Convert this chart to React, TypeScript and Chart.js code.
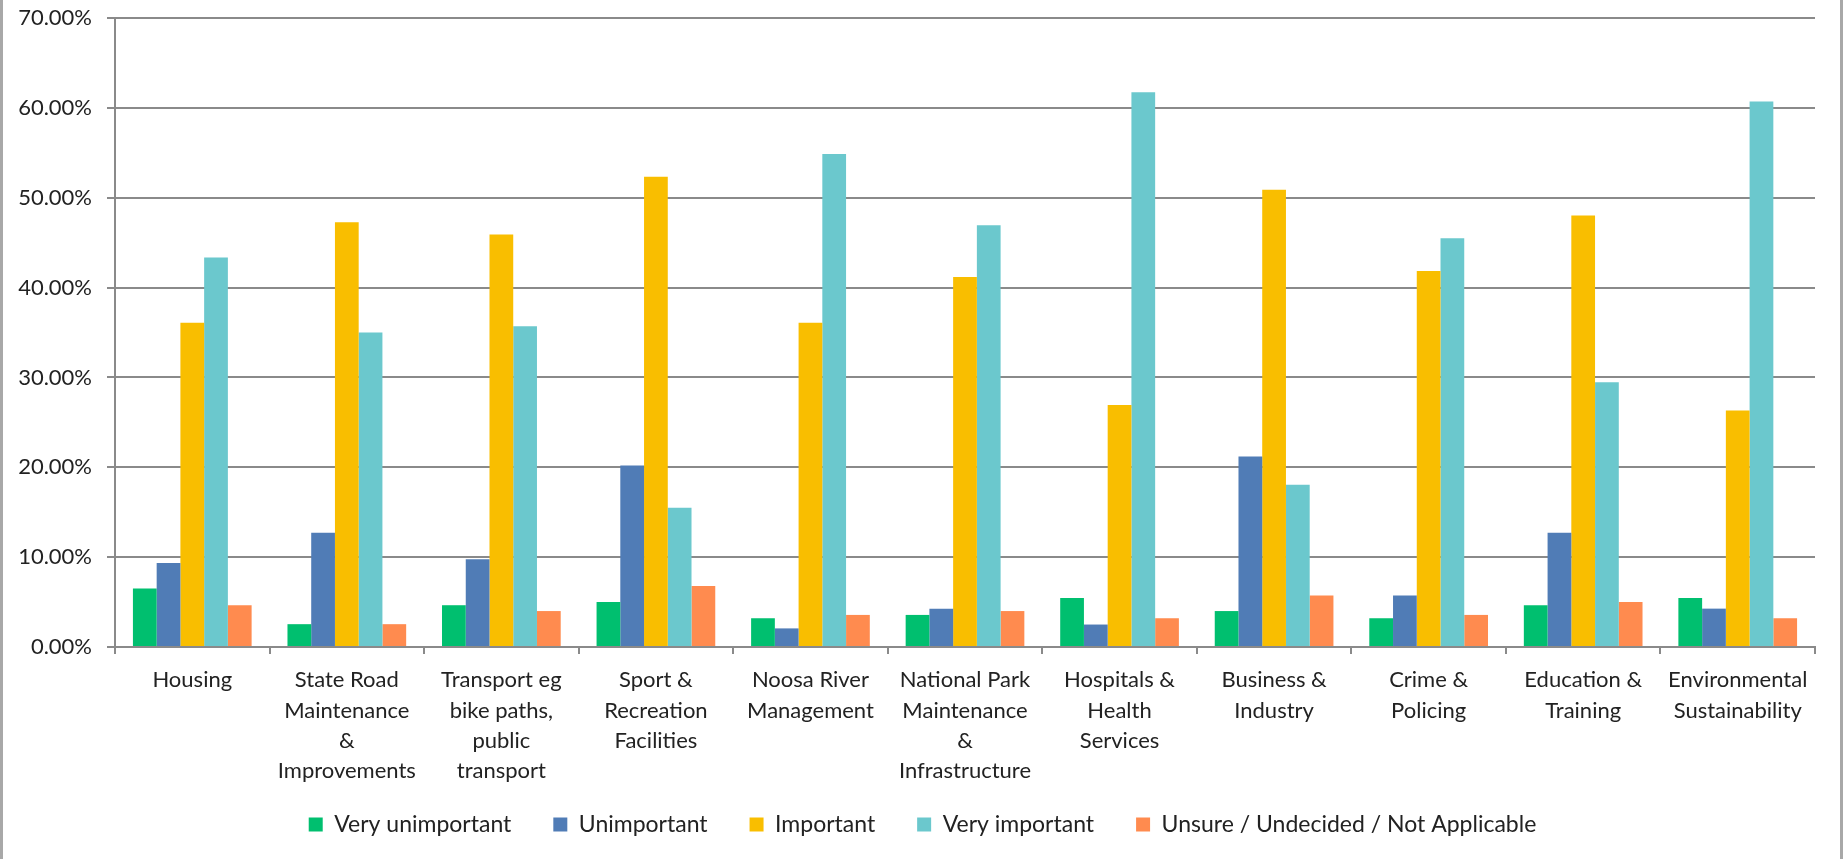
import React, { useEffect, useRef } from "react";
import { Chart, registerables } from "chart.js";

Chart.register(...registerables);

const categories: string[][] = [
  ["Housing"],
  ["State Road", "Maintenance", "&", "Improvements"],
  ["Transport eg", "bike paths,", "public", "transport"],
  ["Sport &", "Recreation", "Facilities"],
  ["Noosa River", "Management"],
  ["National Park", "Maintenance", "&", "Infrastructure"],
  ["Hospitals &", "Health", "Services"],
  ["Business &", "Industry"],
  ["Crime &", "Policing"],
  ["Education &", "Training"],
  ["Environmental", "Sustainability"],
];

const seriesNames = [
  "Very unimportant",
  "Unimportant",
  "Important",
  "Very important",
  "Unsure / Undecided / Not Applicable",
];

const veryUnimportant = [6.52, 2.54, 4.65, 5.02, 3.2, 3.57, 5.44, 4.0, 3.2, 4.65, 5.44];
const unimportant = [9.34, 12.71, 9.76, 20.2, 2.07, 4.27, 2.5, 21.19, 5.73, 12.71, 4.27];
const important = [36.08, 47.27, 45.91, 52.33, 36.08, 41.18, 26.94, 50.88, 41.84, 48.02, 26.33];
const veryImportant = [43.34, 35.0, 35.7, 15.5, 54.86, 46.94, 61.74, 18.05, 45.49, 29.47, 60.72];
const unsure = [4.65, 2.54, 4.0, 6.8, 3.57, 4.0, 3.2, 5.73, 3.57, 5.02, 3.2];

const seriesColors = ["#00BF6F", "#507CB6", "#F9BE00", "#6BC8CD", "#FF8B4F"];

const yMin = 0;
const yMax = 70;
const yStep = 10;

const GRID = "#8a8a8a";
const TEXT = "#222222";
const FONT = "Lato";

const framePlugin = {
  id: "frame",
  afterLayout(chart: any) {
    // let the multi-line category labels extend below the axis box without clipping
    const x = chart.scales.x;
    if (x) x.bottom = chart.height;
  },
  afterDraw(chart: any) {
    const { ctx, width } = chart;
    ctx.save();
    ctx.strokeStyle = "#a8a8a8";
    ctx.lineWidth = 3;
    ctx.beginPath();
    ctx.moveTo(1.5, 0);
    ctx.lineTo(1.5, chart.height);
    ctx.moveTo(width - 3.5, 0);
    ctx.lineTo(width - 3.5, chart.height);
    ctx.stroke();
    ctx.restore();
  },
};

export default function App() {
  const ref = useRef<HTMLCanvasElement | null>(null);

  useEffect(() => {
    if (!ref.current) return;
    const values = [veryUnimportant, unimportant, important, veryImportant, unsure];
    const chart = new Chart(ref.current, {
      type: "bar",
      data: {
        labels: categories,
        datasets: values.map((v, i) => ({
          label: seriesNames[i],
          data: v,
          backgroundColor: seriesColors[i],
          borderWidth: 0,
          categoryPercentage: 0.768,
          barPercentage: 1,
          yAxisID: "y",
        })),
      },
      options: {
        responsive: false,
        animation: false,
        devicePixelRatio: 1,
        layout: { padding: { left: 0, right: 0, top: 18, bottom: 13 } },
        plugins: {
          legend: {
            position: "bottom",
            labels: {
              boxWidth: 14,
              boxHeight: 14,
              padding: 42,
              color: TEXT,
              font: { family: FONT, size: 23 },
            },
          },
          tooltip: { enabled: false },
        },
        scales: {
          x: {
            grid: {
              offset: true,
              drawOnChartArea: false,
              drawTicks: true,
              tickLength: 7,
              color: GRID,
              lineWidth: 2,
            },
            border: { display: true, color: GRID, width: 2 },
            ticks: {
              autoSkip: false,
              maxRotation: 0,
              minRotation: 0,
              padding: 11,
              color: TEXT,
              font: { family: FONT, size: 22, lineHeight: 1.38 },
            },
            afterFit: (s: any) => {
              s.height = 124;
            },
          },
          y: {
            min: yMin,
            max: yMax,
            ticks: {
              stepSize: yStep,
              padding: 15,
              color: TEXT,
              font: { family: FONT, size: 22 },
              callback: (v: any) => Number(v).toFixed(2) + "%",
            },
            grid: { color: GRID, lineWidth: 2, tickLength: 8, drawTicks: true },
            border: { display: true, color: GRID, width: 2 },
            afterFit: (s: any) => {
              s.width = 115;
              s.paddingTop = 0;
              s.paddingBottom = 0;
            },
          },
          yRight: {
            position: "right",
            display: true,
            min: yMin,
            max: yMax,
            ticks: { display: false },
            grid: { display: false, drawTicks: false },
            border: { display: false },
            afterFit: (s: any) => {
              s.width = 30;
              s.paddingTop = 0;
              s.paddingBottom = 0;
            },
          },
        },
      },
      plugins: [framePlugin],
    } as any);
    return () => chart.destroy();
  }, []);

  return (
    <div
      style={{
        position: "fixed",
        left: 0,
        top: 0,
        width: 1845,
        height: 859,
        background: "#ffffff",
      }}
    >
      <canvas
        ref={ref}
        width={1845}
        height={859}
        style={{ width: 1845, height: 859, display: "block" }}
      />
    </div>
  );
}
